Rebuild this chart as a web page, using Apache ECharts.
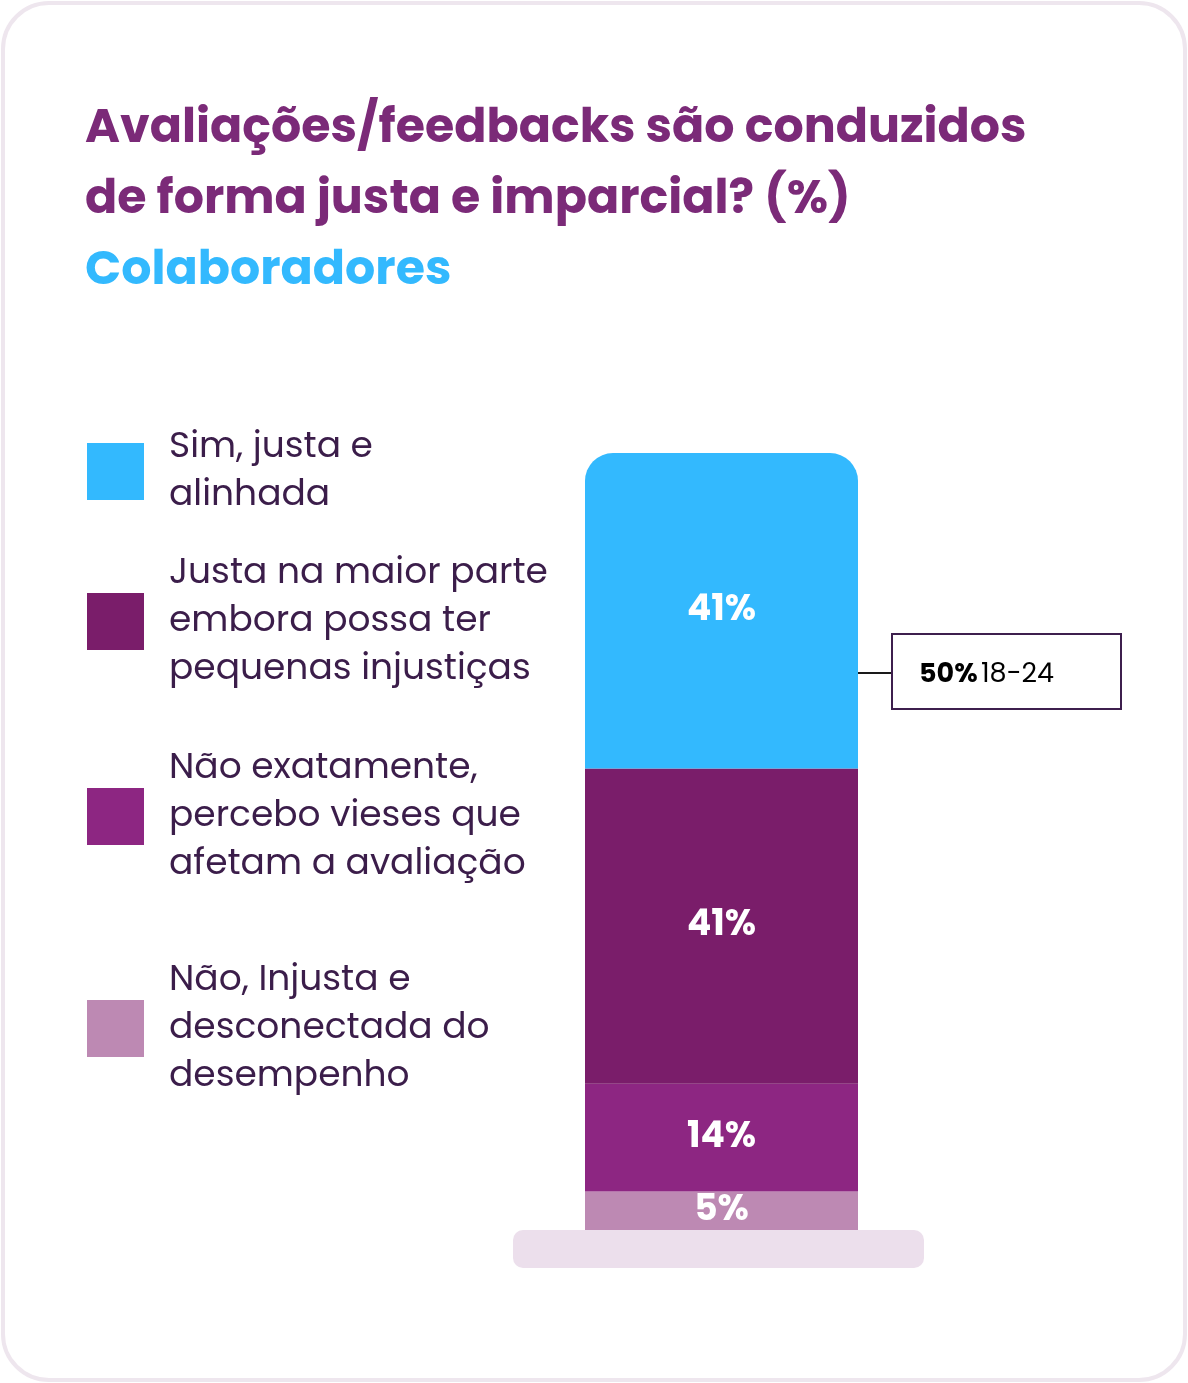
<!DOCTYPE html>
<html>
<head>
<meta charset="utf-8">
<script src="https://cdn.jsdelivr.net/npm/echarts@6/dist/echarts.min.js"></script>
<style>
html,body{margin:0;padding:0;background:#fff;}
#chart{width:1188px;height:1383px;}
</style>
</head>
<body>
<div id="chart"></div>
<script>
const titleText = 'Avaliações/feedbacks são conduzidos\nde forma justa e imparcial? (%)';
const subtitleText = 'Colaboradores';
const categories = ['Colaboradores'];
const seriesNames = [
  'Sim, justa e\nalinhada',
  'Justa na maior parte\nembora possa ter\npequenas injustiças',
  'Não exatamente,\npercebo vieses que\nafetam a avaliação',
  'Não, Injusta e\ndesconectada do\ndesempenho'
];
const seriesValues = [41, 41, 14, 5];
const seriesColors = ['#33b9fe', '#7a1d6a', '#8d2682', '#bd89b3'];
const annotationBold = '50%';
const annotationText = '18-24';

const FONT = 'Poppins, "Open Sans", sans-serif';
const chart = echarts.init(document.getElementById('chart'));

const legendCenters = [471, 621, 816, 1028];
const legendLines = seriesNames.map(s => s.split('\n').length);

const legends = seriesNames.map((name, i) => ({
  data: [name],
  left: 87,
  top: legendCenters[i] - legendLines[i] * 24 - 3,
  padding: 0,
  orient: 'vertical',
  icon: 'rect',
  itemWidth: 57,
  itemHeight: 57,
  selectedMode: false,
  textStyle: {
    fontFamily: FONT,
    fontSize: 36,
    lineHeight: 48,
    color: '#3b1d4a',
    padding: [7, 0, 0, 20]
  }
}));

// bottom-up stacking order: last legend item sits at the bottom of the column
const series = seriesNames.map((name, i) => ({
  name: name,
  type: 'bar',
  stack: 'total',
  barWidth: 273,
  data: [seriesValues[i]],
  itemStyle: {
    color: seriesColors[i],
    borderRadius: i === 0 ? [28, 28, 0, 0] : 0
  },
  label: {
    show: true,
    position: 'inside',
    formatter: '{c}%',
    color: '#ffffff',
    fontFamily: FONT,
    fontSize: 36,
    fontWeight: 'bold'
  },
  emphasis: { disabled: true }
})).reverse();

const option = {
  animation: false,
  backgroundColor: '#ffffff',
  title: [
    {
      text: titleText,
      left: 85,
      top: 95,
      padding: 0,
      textStyle: {
        fontFamily: FONT,
        fontSize: 47.5,
        fontWeight: 'bold',
        lineHeight: 71,
        color: '#7b2a78'
      }
    },
    {
      text: subtitleText,
      left: 85,
      top: 246,
      padding: 0,
      textStyle: {
        fontFamily: FONT,
        fontSize: 47.5,
        fontWeight: 'bold',
        lineHeight: 52,
        color: '#33b9fe'
      }
    }
  ],
  legend: legends,
  grid: { left: 585, top: 453, width: 273, height: 777 },
  xAxis: { type: 'category', data: categories, show: false },
  yAxis: { type: 'value', min: 0, max: 101, show: false },
  series: series,
  graphic: [
    {
      type: 'rect', z: -10, silent: true,
      shape: { x: 3, y: 3, width: 1182, height: 1377, r: 46 },
      style: { fill: '#ffffff', stroke: '#eee6ee', lineWidth: 4 }
    },
    {
      type: 'rect', z: 10, silent: true,
      shape: { x: 513, y: 1230, width: 411, height: 38, r: 10 },
      style: { fill: '#ecdfec' }
    },
    {
      type: 'line', z: 10, silent: true,
      shape: { x1: 858, y1: 673, x2: 892, y2: 673 },
      style: { stroke: '#1a1a1a', lineWidth: 2 }
    },
    {
      type: 'rect', z: 10, silent: true,
      shape: { x: 892, y: 634, width: 229, height: 75 },
      style: { fill: '#ffffff', stroke: '#3d1f4d', lineWidth: 2 }
    },
    {
      type: 'text', z: 11, silent: true,
      left: 919, top: 662,
      style: {
        text: '{b|' + annotationBold + '} {r|' + annotationText + '}',
        rich: {
          b: { fontFamily: FONT, fontSize: 27, fontWeight: 'bold', color: '#3d1f4d', lineHeight: 32 },
          r: { fontFamily: FONT, fontSize: 27, color: '#3d1f4d', lineHeight: 32 }
        }
      }
    }
  ]
};
chart.setOption(option);
</script>
</body>
</html>
